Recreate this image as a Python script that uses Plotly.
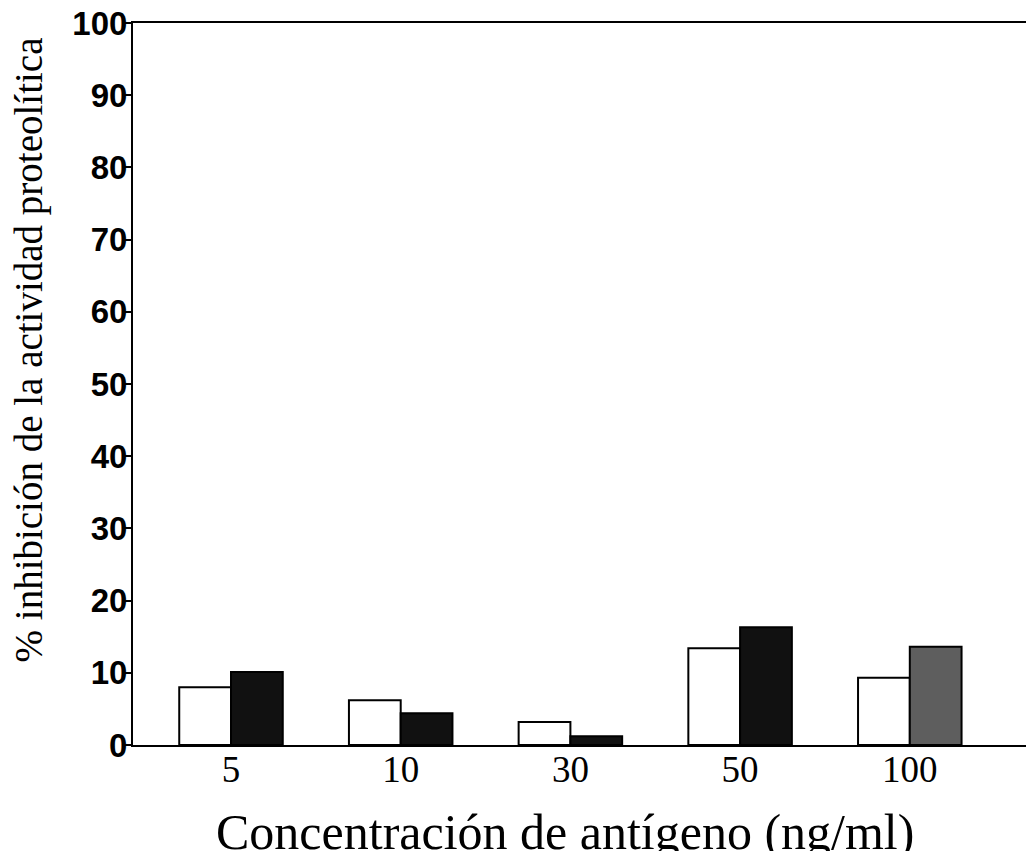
import plotly.graph_objects as go

categories = ["5", "10", "30", "50", "100"]
serie_a = [8.0, 6.2, 3.2, 13.4, 9.3]
serie_b = [10.1, 4.4, 1.2, 16.3, 13.6]
serie_b_colors = ["#111111", "#111111", "#111111", "#111111", "#5e5e5e"]
y_ticks = [0, 10, 20, 30, 40, 50, 60, 70, 80, 90, 100]
x_title = "Concentración de antígeno (ng/ml)"
y_title = "% inhibición de la actividad proteolítica"

fig = go.Figure()
fig.add_trace(go.Bar(x=categories, y=serie_a, marker=dict(color="white", line=dict(color="black", width=2)), showlegend=False))
fig.add_trace(go.Bar(x=categories, y=serie_b, marker=dict(color=serie_b_colors, line=dict(color="black", width=2)), showlegend=False))

fig.update_layout(
    width=1034, height=851,
    margin=dict(l=125, r=0, t=15, b=114),
    paper_bgcolor="white", plot_bgcolor="white",
    barmode="group", bargap=0.39, bargroupgap=0,
    xaxis=dict(
        type="category", range=[-0.5775, 4.779], automargin=False,
        showline=True, linecolor="black", linewidth=2, mirror=True,
        ticks="", showgrid=False, zeroline=False, ticklabelstandoff=-9,
        ticklabeloverflow="allow",
        tickfont=dict(family="Liberation Serif", size=37, color="black"),
    ),
    yaxis=dict(
        range=[0, 100], tickvals=y_ticks, automargin=False,
        showline=True, linecolor="black", linewidth=2,
        ticks="outside", ticklen=6, tickwidth=2, tickcolor="black",
        showgrid=False, zeroline=False, ticklabelstandoff=-9,
        ticklabeloverflow="allow",
        tickfont=dict(family="Liberation Sans", size=33, color="black", weight="bold"),
    ),
    annotations=[
        dict(text=x_title, xref="paper", yref="paper", x=0.475, y=-0.1205,
             xanchor="center", yanchor="middle", showarrow=False,
             font=dict(family="Liberation Serif", size=50, color="black")),
        dict(text=y_title, xref="paper", yref="paper", x=-0.114, y=0.547,
             xanchor="center", yanchor="middle", textangle=-90, showarrow=False,
             font=dict(family="Liberation Serif", size=39, color="black")),
    ],
)

fig.write_html("out.html")
